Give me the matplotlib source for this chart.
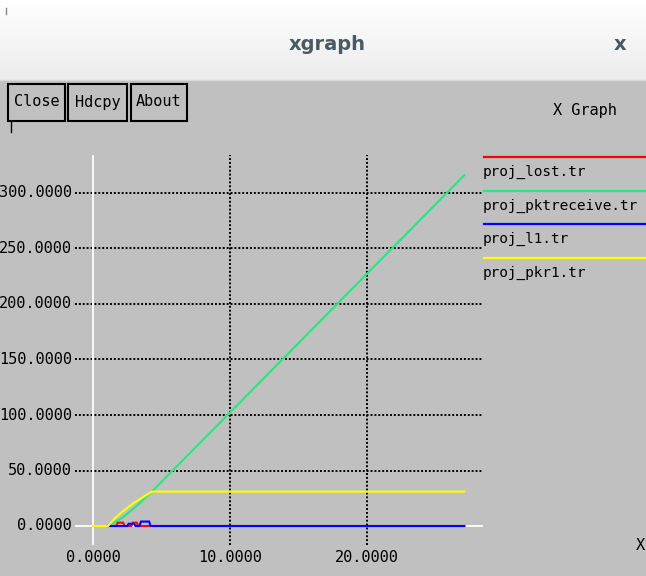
import numpy as np
import matplotlib
matplotlib.use("Agg")
import matplotlib.pyplot as plt
from matplotlib.patches import Rectangle
from matplotlib.lines import Line2D

W, H = 646, 576
BG = "#c0c0c0"
MONO = "DejaVu Sans Mono"

# ---- data -------------------------------------------------------------
series_names = ["proj_lost.tr", "proj_pktreceive.tr", "proj_l1.tr", "proj_pkr1.tr"]
series_colors = ["#ff0000", "#20ea80", "#0000ff", "#ffff00"]

lost_x = [1.1, 1.7, 1.8, 2.2, 2.3, 2.8, 2.9, 3.2, 3.3, 27.1]
lost_y = [0, 0, 3, 3, 0, 0, 3, 3, 0, 0]

pktreceive_x = [1.1, 2.1, 3.0, 4.3, 27.1]
pktreceive_y = [0, 7, 16, 31, 316]

l1_x = [1.1, 2.5, 2.6, 3.0, 3.1, 3.4, 3.5, 4.1, 4.2, 27.1]
l1_y = [0, 0, 2, 2, 0, 0, 4, 4, 0, 0]

pkr1_x = [0.0, 1.1, 1.6, 2.1, 3.0, 4.3, 27.1]
pkr1_y = [0, 0, 7, 12.5, 21, 31, 31]

x_ticks = [0, 10, 20]
y_ticks = [0, 50, 100, 150, 200, 250, 300]
x_tick_labels = ["0.0000", "10.0000", "20.0000"]
y_tick_labels = ["0.0000", "50.0000", "100.0000", "150.0000",
                 "200.0000", "250.0000", "300.0000"]
series = [(lost_x, lost_y), (pktreceive_x, pktreceive_y),
          (l1_x, l1_y), (pkr1_x, pkr1_y)]


def fx(px):
    return px / W


def fy(py):
    return 1 - py / H


fig = plt.figure(figsize=(W / 100, H / 100), dpi=100, facecolor=BG)

# ---- window title bar ---------------------------------------------------
bar = fig.add_axes([0, fy(80), 1, 80 / H])
grad = np.linspace(1.0, 0.925, 64).reshape(-1, 1)
bar.imshow(np.dstack([grad, grad, grad]), aspect="auto", extent=[0, 1, 0, 1])
bar.set_axis_off()
fig.text(fx(327), fy(45), "xgraph", ha="center", va="center",
         fontsize=14, fontweight="semibold", color="#4a5a62", family="DejaVu Sans")
fig.text(fx(620), fy(45), "x", ha="center", va="center",
         fontsize=14, fontweight="bold", color="#4a5a62", family="DejaVu Sans")
fig.add_artist(Line2D([fx(6), fx(6)], [fy(8), fy(14)], color="#888888", lw=1))
fig.add_artist(Line2D([0, 1], [fy(80), fy(80)], color="#d8d8d8", lw=1))

# ---- buttons ------------------------------------------------------------
for label, x0, x1 in [("Close", 8, 65), ("Hdcpy", 68, 127), ("About", 131, 187)]:
    fig.add_artist(Rectangle((fx(x0), fy(121)), fx(x1 - x0), (121 - 84) / H,
                             transform=fig.transFigure, facecolor=BG,
                             edgecolor="black", lw=1.5))
    fig.text(fx((x0 + x1) / 2), fy(102), label, ha="center", va="center",
             fontsize=11, family=MONO, color="black")
fig.add_artist(Line2D([fx(11), fx(11)], [fy(121), fy(132)], color="black", lw=1))
fig.text(fx(585), fy(110), "X Graph", ha="center", va="center",
         fontsize=11, family=MONO, color="black")

# ---- plot area ----------------------------------------------------------
L, R, T, B = 75, 483, 155, 545
ax = fig.add_axes([fx(L), fy(B), (R - L) / W, (B - T) / H])
ax.set_facecolor("none")
ax.patch.set_visible(False)
for s in ax.spines.values():
    s.set_visible(False)
x0_px, xs = 93.0, 13.7
y0_px, ys = 526.0, 1.11
ax.set_xlim((L - x0_px) / xs, (R - x0_px) / xs)
ax.set_ylim((y0_px - B) / ys, (y0_px - T) / ys)
ax.set_xticks([])
ax.set_yticks([])

dots = dict(color="black", lw=1.4, linestyle=(0, (1, 1)))
for xv in x_ticks[1:]:
    ax.axvline(xv, **dots)
for yv in y_ticks[1:]:
    ax.axhline(yv, **dots)
ax.axvline(0, color="white", lw=1.3)
ax.axhline(0, color="white", lw=1.3)

for (xs_, ys_), c in zip(series, series_colors):
    ax.plot(xs_, ys_, color=c, lw=1.5, solid_joinstyle="miter")

for xv, lab in zip(x_ticks, x_tick_labels):
    ax.annotate(lab, (xv, 0), xycoords=("data", "axes fraction"),
                xytext=(0, -5), textcoords="offset pixels",
                ha="center", va="top", fontsize=11, family=MONO)
for yv, lab in zip(y_ticks, y_tick_labels):
    ax.annotate(lab, (0, yv), xycoords=("axes fraction", "data"),
                xytext=(-3, 0), textcoords="offset pixels",
                ha="right", va="center", fontsize=11, family=MONO)

fig.text(fx(636), fy(545), "X", ha="left", va="center", fontsize=11, family=MONO)

# ---- legend -------------------------------------------------------------
for i, (name, c) in enumerate(zip(series_names, series_colors)):
    ly = 157 + i * 33.7
    fig.add_artist(Line2D([fx(484), 1.0], [fy(ly), fy(ly)], color=c, lw=1.6))
    fig.text(fx(483), fy(ly + 15), name, ha="left", va="center",
             fontsize=10.4, family=MONO, color="black")

fig.savefig("out.png", dpi=100, facecolor=BG)
